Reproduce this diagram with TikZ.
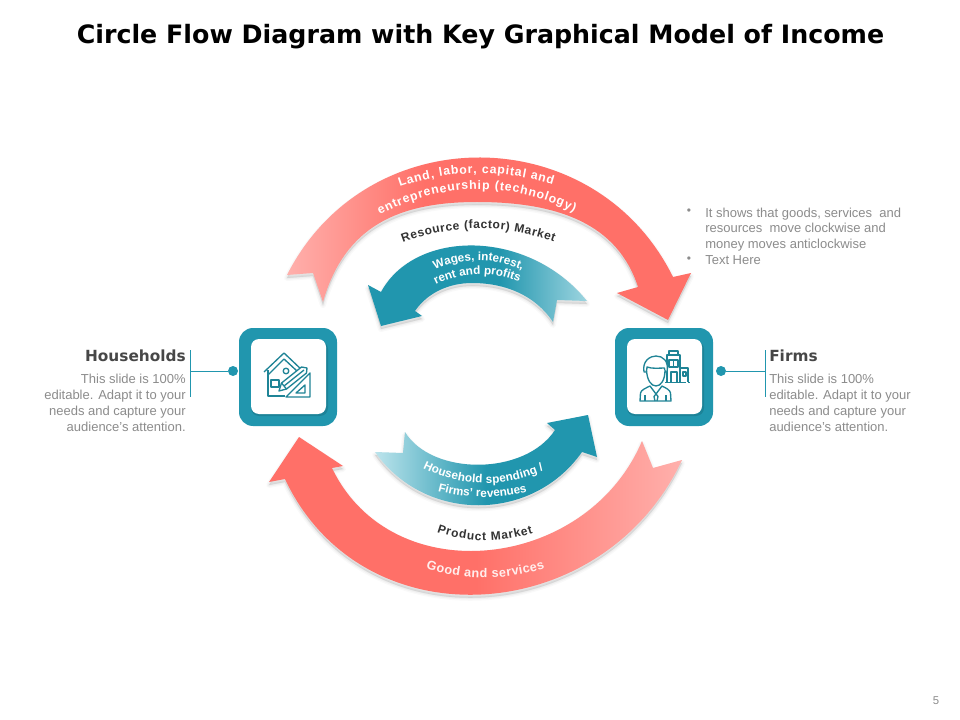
\documentclass[tikz,border=0pt]{standalone}
\usepackage{fontspec}
\setmainfont{Liberation Sans}
\newfontfamily\dejavu{DejaVu Sans}
\usetikzlibrary{decorations.text}
\definecolor{coral}{HTML}{FF7068}
\definecolor{coralL}{HTML}{FFB0AC}
\definecolor{tealM}{HTML}{2196AE}
\definecolor{tealL}{HTML}{BCE4EC}
\definecolor{iconc}{HTML}{1F8496}
\definecolor{greyt}{HTML}{8C8C8C}
\definecolor{darkt}{HTML}{333333}
\pgfdeclarehorizontalshading{coralLR}{100bp}{color(0bp)=(coralL); color(25bp)=(coralL); color(42bp)=(coral); color(100bp)=(coral)}
\pgfdeclarehorizontalshading{coralRL}{100bp}{color(0bp)=(coral); color(50bp)=(coral); color(75bp)=(coralL); color(100bp)=(coralL)}
\pgfdeclarehorizontalshading{tealRL}{100bp}{color(0bp)=(tealM); color(55bp)=(tealM); color(75bp)=(tealL!80!tealM); color(100bp)=(tealL!80!tealM)}
\pgfdeclarehorizontalshading{tealLR}{100bp}{color(0bp)=(tealL); color(25bp)=(tealL); color(50bp)=(tealM); color(100bp)=(tealM)}
\def\redtop{(287,275) .. controls (367,117) and (595,119) .. (673,277) -- (691,273) -- (668,320) -- (617,293) -- (638,287) .. controls (618,225) and (560,202) .. (477,202) .. controls (400,202) and (345,225) .. (323,302) -- (313,273) -- cycle}
\def\redbot{(682,460) .. controls (604,627) and (363,645) .. (285,479) -- (269,482) -- (299,437) -- (343,466) -- (332,468) .. controls (392,593) and (587,571) .. (642,441) -- (653,468) -- cycle}
\def\tealtop{(587,301) .. controls (528,228) and (415,229) .. (381,292) -- (368,285) -- (381,326) -- (422,316) -- (415,311) .. controls (428,292) and (450,283) .. (472,283) .. controls (505,283) and (535,295) .. (553,322) -- (557,300) -- cycle}
\def\tealbot{(375,452) .. controls (425,523) and (532,523) .. (582,452) -- (597,457) -- (588,415) -- (547,423) -- (555,430) .. controls (525,476) and (432,476) .. (405,432) -- (403,453) -- cycle}
\tikzset{
  softa/.style={fill=black,draw=black,opacity=.025,line width=4.5pt,line join=round},
  softb/.style={fill=black,draw=black,opacity=.03,line width=2.5pt,line join=round},
  softc/.style={fill=black,draw=black,opacity=.03,line width=.8pt,line join=round},
  curved/.style n args={3}{decorate,decoration={text along path,text align=fit to path,text color=#1,text={|\fontsize{#2}{#2}\bfseries\selectfont|#3}}},
  tile/.style={fill=tealM,rounded corners=10.5pt},
  inner/.style={fill=white,rounded corners=6pt},
  leader/.style={draw=tealM,line width=.7pt},
  dotn/.style={circle,fill=tealM,minimum size=7.5pt,inner sep=0pt},
  ico/.style={draw=iconc,line width=1pt,line join=round},
  bodyt/.style={font=\fontsize{9.75}{11.85}\selectfont,text=greyt,inner sep=0pt},
  headt/.style={font=\dejavu\bfseries\fontsize{11.5}{13}\selectfont,text=darkt!90,inner sep=0pt},
}
\newcommand{\softshadow}[1]{%
  \begin{scope}[shift={(0,3)}]
  \path[softa] #1; \path[softb] #1; \path[softc] #1;
  \end{scope}}
\begin{document}
\begin{tikzpicture}[x=0.75pt,y=-0.75pt]
\useasboundingbox (0,0) rectangle (960,720);
\fill[white] (0,0) rectangle (960,720);
\node[font=\dejavu\bfseries\fontsize{18.97}{22}\selectfont,text=black,inner sep=0pt] (title) at (480.5,37) {Circle Flow Diagram with Key Graphical Model of Income};
% arrows
\softshadow{\redtop}
\path[shading=coralLR] \redtop;
\softshadow{\redbot}
\path[shading=coralRL] \redbot;
\softshadow{\tealtop}
\path[shading=tealRL] \tealtop;
\softshadow{\tealbot}
\path[shading=tealLR] \tealbot;
% curved labels
\path[curved={white}{9.2}{Land, labor, capital and}] (400,187) .. controls (451,169) and (502,169) .. (553,185);
\path[curved={white}{9.2}{entrepreneurship  (technology)}] (380,215) .. controls (445,181) and (510,181) .. (574,212);
\path[curved={darkt}{9}{Resource  (factor)  Market}] (403,243) .. controls (453,224) and (504,224) .. (554,242);
\path[curved={white}{8.8}{Wages, interest,}] (435,270) .. controls (464,257) and (493,257) .. (522,270);
\path[curved={white}{8.8}{rent and profits}] (436,285) .. controls (464,271) and (491,271) .. (519,282);
\path[curved={white}{8.8}{Household spending /}] (423,468) .. controls (463,488) and (504,488) .. (544,470);
\path[curved={white}{8.8}{Firms' revenues}] (438,491) .. controls (468,499) and (497,499) .. (527,492);
\path[curved={darkt}{9}{Product Market}] (437,532) .. controls (468,543) and (500,543) .. (533,533);
\path[curved={white!88!coral}{9.5}{Good and services}] (426,568) .. controls (465,581) and (505,581) .. (545,568);
% tiles
\fill[tile] (239,328) rectangle (337,426);
\fill[black,opacity=.12,rounded corners=6pt] (251,341) rectangle (328,416);
\fill[inner] (251,339) rectangle (326,414);
\fill[tile] (615,328) rectangle (713,426);
\fill[black,opacity=.12,rounded corners=6pt] (627,341) rectangle (704,416);
\fill[inner] (627,339) rectangle (702,414);
% house icon
\begin{scope}[ico]
\draw (264,372) -- (284,353) -- (303,371);
\draw (268,370) -- (268,396) -- (285,396);
\draw (271,380) rectangle (279,387);
\draw (286,371) circle[radius=2.8];
\draw (268,375) -- (284,359) -- (297,371);
\draw (310,373) -- (310,397) -- (286,397) -- cycle;
\draw (305,385) -- (305,393) -- (296,393) -- cycle;
\filldraw[fill=white] (279,391) -- (281.5,383) -- (301.5,367) -- (307,368) -- (306.5,373) -- (286.5,389) -- cycle;
\draw (281.5,383) -- (286.5,389);
\draw (284,386) -- (304,370);
\end{scope}
% person and building icon
\begin{scope}[ico]
\draw (669,355) -- (669,351) -- (678,351) -- (678,355);
\draw (667,382) -- (667,355) -- (680,355) -- (680,382);
\draw (669,360) rectangle (678,367);
\draw (673.5,360) -- (673.5,367);
\draw (671,382) -- (671,372) -- (677,372) -- (677,382);
\draw (680,368) -- (688,368) -- (688,382);
\draw (683,372) rectangle (686,376);
\draw (665,382.5) -- (684,382.5);
\draw[dash pattern=on 1.5pt off 1.5pt] (684,382.5) -- (691,382.5);
\filldraw[fill=white] (644,372) .. controls (642,361) and (650,356) .. (656,356) .. controls (663,356) and (669,361) .. (667,372) -- (665,372) -- (664.5,368) .. controls (660,368) and (652,369) .. (647,367) -- (646.5,372) -- cycle;
\filldraw[fill=white] (646.5,370) .. controls (647,380) and (651,386) .. (656,386) .. controls (661,386) and (665,380) .. (665,370);
\filldraw[fill=white] (640,401) -- (640.5,393) .. controls (641,390) and (646,388) .. (650,386) -- (656,394) -- (662,386) .. controls (666,388) and (670,390) .. (670.5,393) -- (671,401) -- cycle;
\draw (656,394) -- (654,396.5) -- (655,401);
\draw (656,394) -- (658,396.5) -- (657,401);
\draw (645,395) -- (645,401);
\draw (666,395) -- (666,401);
\end{scope}
% leaders
\node[dotn] (dotH) at (233,371) {};
\node[dotn] (dotF) at (721,371) {};
\coordinate (barHt) at (190.5,350);
\coordinate (barHb) at (190.5,397);
\coordinate (barHm) at (190.5,371);
\coordinate (barFt) at (765,350);
\coordinate (barFb) at (765,397);
\coordinate (barFm) at (765,371);
\draw[leader] (barHt) -- (barHb);
\draw[leader] (barHm) -- (dotH);
\draw[leader] (barFt) -- (barFb);
\draw[leader] (barFm) -- (dotF);
% texts
\node[headt,anchor=base east] (hh) at (186,361) {Households};
\node[bodyt,anchor=north east,align=right] (hb) at (186,374) {This slide is 100\%\\editable.  Adapt it to your\\needs and capture your\\audience's attention.};
\node[headt,anchor=base west] (ff) at (769,361) {Firms};
\node[bodyt,anchor=north west,align=left] (fb) at (769,374) {This slide is 100\%\\editable.  Adapt it to your\\needs and capture your\\audience's attention.};
\node[bodyt,anchor=north west,align=left] (bl) at (705,207.5) {It shows that goods, services\ \ and\\resources\ \ move\ clockwise and\\money moves\ anticlockwise\\Text Here};
\node[font=\fontsize{9}{10}\selectfont,text=greyt,inner sep=0pt] (bu1) at (689,212) {•};
\node[font=\fontsize{9}{10}\selectfont,text=greyt,inner sep=0pt] (bu2) at (689,260) {•};
\node[font=\fontsize{8.5}{10}\selectfont,text=greyt,inner sep=0pt] (pg) at (936,701) {5};
\end{tikzpicture}
\end{document}
